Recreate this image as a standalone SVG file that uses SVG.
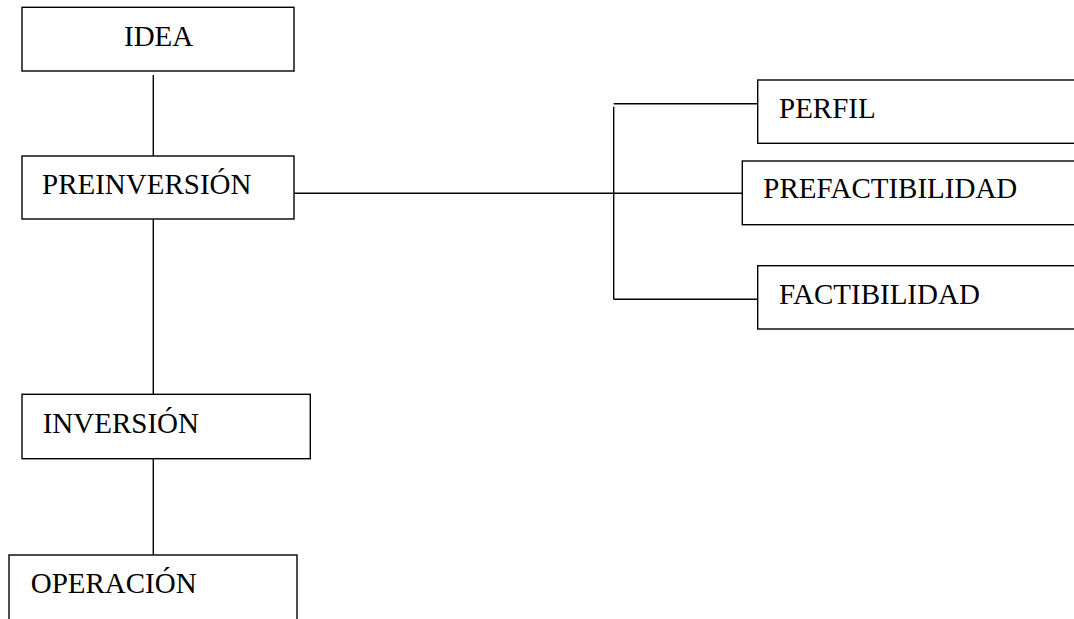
<svg xmlns="http://www.w3.org/2000/svg" width="1074" height="619" viewBox="0 0 1074 619">
<style>
.box{fill:#fff;stroke:#000;stroke-width:1.4}
.lbl{font-family:'Liberation Serif','DejaVu Serif',serif;font-size:29px;fill:#000}
.con{stroke:#000;stroke-width:1.4;fill:none}
</style>
<rect width="1074" height="619" fill="#fff"/>
<g id="connectors">
<line class="con" x1="153.3" y1="75" x2="153.3" y2="156"/>
<line class="con" x1="153.3" y1="219" x2="153.3" y2="394"/>
<line class="con" x1="153.3" y1="459" x2="153.3" y2="555"/>
<line class="con" x1="294" y1="193.3" x2="742" y2="193.3"/>
<line class="con" x1="613.7" y1="106.7" x2="613.7" y2="299.3"/>
<line class="con" x1="613.7" y1="103.7" x2="758" y2="103.7"/>
<line class="con" x1="613.7" y1="299.3" x2="758" y2="299.3"/>
</g>
<g id="idea">
<rect class="box" x="22" y="7.3" width="272" height="63.7"/>
<text class="lbl" x="124" y="45.7">IDEA</text>
</g>
<g id="preinversion">
<rect class="box" x="22" y="156" width="272" height="63"/>
<text class="lbl" x="42" y="194">PREINVERSIÓN</text>
</g>
<g id="inversion">
<rect class="box" x="22" y="394.3" width="288.3" height="64.4"/>
<text class="lbl" x="42.7" y="432.7">INVERSIÓN</text>
</g>
<g id="operacion">
<rect class="box" x="9" y="555" width="288" height="80"/>
<text class="lbl" x="30.7" y="592.7">OPERACIÓN</text>
</g>
<g id="perfil">
<rect class="box" x="757.7" y="80" width="330" height="63.3"/>
<text class="lbl" x="779" y="118.3">PERFIL</text>
</g>
<g id="prefactibilidad">
<rect class="box" x="742.3" y="161" width="345" height="63.7"/>
<text class="lbl" x="763.3" y="198.3">PREFACTIBILIDAD</text>
</g>
<g id="factibilidad">
<rect class="box" x="757.7" y="265.7" width="330" height="63.3"/>
<text class="lbl" x="779" y="304.3">FACTIBILIDAD</text>
</g>
</svg>
